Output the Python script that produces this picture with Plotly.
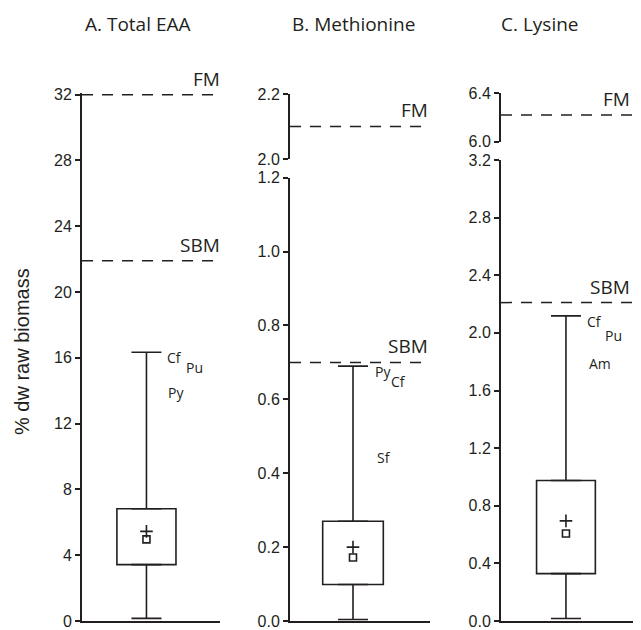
import plotly.graph_objects as go

# ---------------- data ----------------
panel_titles = ["A. Total EAA", "B. Methionine", "C. Lysine"]
q1_vals = [3.43, 0.099, 0.329]
q3_vals = [6.82, 0.270, 0.975]
lower_whisker = [0.16, 0.004, 0.017]
upper_whisker = [16.34, 0.690, 2.118]
median_vals = [4.96, 0.172, 0.607]
mean_vals = [5.45, 0.200, 0.695]
fm_vals = [32.0, 2.10, 6.22]
sbm_vals = [21.9, 0.70, 2.21]

species_A = ["Cf", "Pu", "Py"]
species_A_vals = [16.04, 15.42, 13.90]
species_B = ["Py", "Cf", "Sf"]
species_B_vals = [0.676, 0.647, 0.443]
species_C = ["Cf", "Pu", "Am"]
species_C_vals = [2.077, 1.984, 1.79]

ticks_A = [0, 4, 8, 12, 16, 20, 24, 28, 32]
ticks_B_low = [0.0, 0.2, 0.4, 0.6, 0.8, 1.0, 1.2]
ticks_B_high = [2.0, 2.2]
ticks_C_low = [0.0, 0.4, 0.8, 1.2, 1.6, 2.0, 2.4, 2.8, 3.2]
ticks_C_high = [6.0, 6.4]

y_title = "% dw raw biomass"
ref_names = ["FM", "SBM"]

# ---------------- layout helpers ----------------
OFF = 8  # page body margin
W, H = 641 - OFF, 630 - OFF
INK = "#231f20"
TICK_FONT = dict(family="Arial, Liberation Sans, sans-serif", size=16, color=INK)
TEXT_FAMILY = "Open Sans, Noto Sans, sans-serif"


def fx(px):
    return (px - OFF) / W


def fy(py):
    return 1 - (py - OFF) / H


# per panel: x pixel extent, box centre (fraction of x domain), box width (fraction)
panel_x = [(82, 220), (290, 430), (501, 641)]
box_centre = [0.467, 0.45, 0.464]
box_width = [0.428, 0.433, 0.42]
title_x = [137, 353, 540]
ref_label_shift = [2, 0, -9]
species_x = [[0.60, 0.736, 0.606], [0.591, 0.709, 0.607], [0.60, 0.731, 0.612]]
species_names = [species_A, species_B, species_C]
species_vals = [species_A_vals, species_B_vals, species_C_vals]

# y axes: list per panel of (axis key, pixel top, pixel bottom, range, ticks)
y_bottom = 621
axes_spec = [
    [("y", 93, y_bottom, [0, 32.1], ticks_A, "d")],
    [("y2", 177.7, y_bottom, [0, 1.2], ticks_B_low, ".1f"),
     ("y3", 94, 159, [2.0, 2.2], ticks_B_high, ".1f")],
    [("y4", 160, y_bottom, [0, 3.2], ticks_C_low, ".1f"),
     ("y5", 93.3, 141.7, [6.0, 6.4], ticks_C_high, ".1f")],
]

fig = go.Figure()
layout = dict(
    width=W, height=H, margin=dict(l=0, r=0, t=0, b=0),
    template="none", paper_bgcolor="white", plot_bgcolor="white",
    showlegend=False, barmode="overlay",
)
shapes = []
annotations = []

for i in range(3):
    xkey = "x" if i == 0 else f"x{i + 1}"
    xname = "xaxis" if i == 0 else f"xaxis{i + 1}"
    low_key = axes_spec[i][0][0]
    x0p, x1p = panel_x[i]
    c = box_centre[i]
    layout[xname] = dict(
        domain=[fx(x0p), min(1, fx(x1p))], range=[-c, 1 - c], anchor=low_key,
        showline=True, linecolor=INK, linewidth=2, ticks="", showticklabels=False,
        showgrid=False, zeroline=False, fixedrange=True,
    )
    for (ykey, ptop, pbot, rng, tv, fmt) in axes_spec[i]:
        yname = "yaxis" if ykey == "y" else "yaxis" + ykey[1:]
        layout[yname] = dict(
            domain=[fy(pbot), fy(ptop)], range=rng, anchor=xkey,
            showline=True, linecolor=INK, linewidth=2,
            ticks="outside", ticklen=5, tickwidth=1.5, tickcolor=INK,
            tickvals=tv, tickformat=fmt, tickfont=TICK_FONT,
            showgrid=False, zeroline=False, fixedrange=True,
        )

    # box body
    fig.add_trace(go.Bar(
        x=[0], y=[q3_vals[i] - q1_vals[i]], base=[q1_vals[i]], width=[box_width[i]],
        marker=dict(color="white", line=dict(color=INK, width=1.6)),
        xaxis=xkey, yaxis=low_key, hoverinfo="skip",
    ))
    # whiskers
    fig.add_trace(go.Scatter(
        x=[0, 0], y=[q3_vals[i], q1_vals[i]], mode="markers",
        marker=dict(size=1, color="rgba(0,0,0,0)"),
        error_y=dict(type="data", symmetric=False,
                     array=[upper_whisker[i] - q3_vals[i], 0],
                     arrayminus=[0, q1_vals[i] - lower_whisker[i]],
                     width=15, thickness=1.6, color=INK),
        xaxis=xkey, yaxis=low_key, hoverinfo="skip",
    ))
    # median (square) and mean (+)
    fig.add_trace(go.Scatter(
        x=[0], y=[median_vals[i]], mode="markers",
        marker=dict(symbol="square-open", size=7, color=INK, line=dict(width=1.6, color=INK)),
        xaxis=xkey, yaxis=low_key,
    ))
    fig.add_trace(go.Scatter(
        x=[0], y=[mean_vals[i]], mode="markers",
        marker=dict(symbol="cross-thin", size=9, color=INK, line=dict(width=1.6, color=INK)),
        xaxis=xkey, yaxis=low_key,
    ))

    # reference lines FM / SBM
    low_max = axes_spec[i][0][3][1]
    for name, val in zip(ref_names, [fm_vals[i], sbm_vals[i]]):
        ykey = low_key if val <= low_max else axes_spec[i][1][0]
        shapes.append(dict(
            type="line", xref=f"{xkey} domain", x0=0, x1=1, yref=ykey, y0=val, y1=val,
            line=dict(color=INK, width=1.5, dash="11px,9px"),
        ))
        annotations.append(dict(
            text=name, xref=f"{xkey} domain", x=1, xanchor="right", xshift=ref_label_shift[i],
            yref=ykey, y=val, yanchor="bottom", yshift=1, showarrow=False,
            font=dict(family=TEXT_FAMILY, size=19, color=INK),
        ))

    # species labels
    for name, val, sx in zip(species_names[i], species_vals[i], species_x[i]):
        annotations.append(dict(
            text=name, xref=f"{xkey} domain", x=sx, xanchor="left",
            yref=low_key, y=val, yanchor="middle", showarrow=False,
            font=dict(family=TEXT_FAMILY, size=14, color=INK),
        ))

    # panel title
    annotations.append(dict(
        text=panel_titles[i], xref="paper", x=fx(title_x[i]), xanchor="center",
        yref="paper", y=fy(24), yanchor="middle", showarrow=False,
        font=dict(family=TEXT_FAMILY, size=19, color=INK),
    ))

annotations.append(dict(
    text=y_title, xref="paper", x=fx(22), xanchor="center",
    yref="paper", y=fy(352), yanchor="middle", textangle=-90, showarrow=False,
    font=dict(family="Arial, Liberation Sans, sans-serif", size=20, color=INK),
))

layout["shapes"] = shapes
layout["annotations"] = annotations
fig.update_layout(**layout)
fig.write_html("out.html")
